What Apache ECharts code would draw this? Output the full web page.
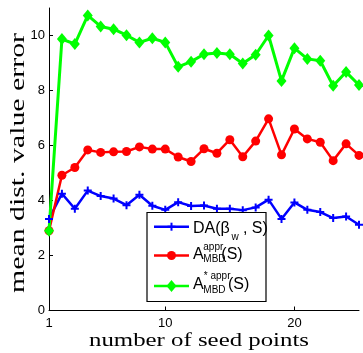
<!DOCTYPE html>
<html>
<head>
<meta charset="utf-8">
<script src="https://cdn.jsdelivr.net/npm/echarts@6/dist/echarts.min.js"></script>
<style>
  html, body { margin: 0; padding: 0; background: #fff; }
  #chart { width: 363px; height: 353px; }
</style>
</head>
<body>
<div id="chart"></div>
<script>
// Number of seed points on the x axis
const seedCounts = [1, 2, 3, 4, 5, 6, 7, 8, 9, 10, 11, 12, 13, 14, 15, 16, 17, 18, 19, 20, 21, 22, 23, 24, 25];

// Mean distance-value error per method
const daErrors = [3.33, 4.25, 3.7, 4.36, 4.16, 4.07, 3.83, 4.21, 3.81, 3.66, 3.94, 3.8, 3.82, 3.7, 3.7, 3.65, 3.75, 4.03, 3.33, 3.93, 3.66, 3.58, 3.36, 3.42, 3.12];
const mbdApprErrors = [2.9, 4.92, 5.2, 5.84, 5.75, 5.77, 5.78, 5.95, 5.87, 5.87, 5.58, 5.42, 5.88, 5.72, 6.21, 5.59, 6.16, 6.97, 5.66, 6.6, 6.24, 6.12, 5.45, 6.06, 5.64];
const mbdStarApprErrors = [2.9, 9.87, 9.69, 10.73, 10.33, 10.23, 10.01, 9.75, 9.9, 9.75, 8.86, 9.05, 9.32, 9.36, 9.32, 8.98, 9.3, 10.0, 8.35, 9.54, 9.15, 9.08, 8.17, 8.67, 8.2];

// Tick labels
const xTicks = [1, 10, 20];
const yTicks = [0, 2, 4, 6, 8, 10];

const xTitle = 'number of seed points';
const yTitle = 'mean dist. value error';

const BLUE = '#0000ff', RED = '#ff0000', GREEN = '#00ff00';
const PLUS = 'path://M3,0h2v3h3v2h-3v3h-2v-3h-3v-2h3z';

const chart = echarts.init(document.getElementById('chart'), null, { renderer: 'canvas' });

// Stretch a serif title horizontally to a target width
const measureCtx = document.createElement('canvas').getContext('2d');
function stretchFor(text, size, targetWidth) {
  measureCtx.font = size + 'px "Liberation Serif"';
  return targetWidth / measureCtx.measureText(text).width;
}

const SANS = '"Liberation Sans", Arial, sans-serif';

// Legend box drawn as graphics (the labels need stacked sub/superscripts)
function legendGraphics() {
  const g = [];
  g.push({ type: 'rect', shape: { x: 147, y: 212.5, width: 119, height: 89 },
    style: { fill: '#fff', stroke: '#000', lineWidth: 1.2 }, z: 100 });
  const rows = [
    { y: 226.7, color: BLUE, marker: 'plus' },
    { y: 255.5, color: RED, marker: 'circle' },
    { y: 286, color: GREEN, marker: 'diamond' }
  ];
  rows.forEach(r => {
    g.push({ type: 'line', shape: { x1: 154, y1: r.y, x2: 189, y2: r.y },
      style: { stroke: r.color, lineWidth: 2.5 }, z: 101 });
    if (r.marker === 'circle') {
      g.push({ type: 'circle', shape: { cx: 171.5, cy: r.y, r: 4.5 }, style: { fill: r.color }, z: 102 });
    } else if (r.marker === 'diamond') {
      g.push({ type: 'polygon', shape: { points: [[171.5, r.y - 6], [176.5, r.y], [171.5, r.y + 6], [166.5, r.y]] },
        style: { fill: r.color }, z: 102 });
    } else {
      g.push({ type: 'rect', shape: { x: 167.5, y: r.y - 1, width: 8, height: 2 }, style: { fill: r.color }, z: 102 });
      g.push({ type: 'rect', shape: { x: 170.5, y: r.y - 4, width: 2, height: 8 }, style: { fill: r.color }, z: 102 });
    }
  });
  const pieces = [
    { t: 'DA(\u03b2', x: 193, y: 228.3, s: 16 },
    { t: 'w', x: 231.5, y: 237.6, s: 10 },
    { t: ' , S)', x: 238.5, y: 228.3, s: 16 },
    { t: 'A', x: 193, y: 254.3, s: 16 },
    { t: 'appr', x: 203.3, y: 246.9, s: 10 },
    { t: 'MBD', x: 203.3, y: 259.6, s: 10 },
    { t: '(S)', x: 221.3, y: 254.3, s: 16 },
    { t: 'A', x: 193, y: 284.3, s: 16 },
    { t: '* appr', x: 203.8, y: 276.4, s: 10 },
    { t: 'MBD', x: 203.3, y: 289.9, s: 10 },
    { t: '(S)', x: 228, y: 284.3, s: 16 }
  ];
  pieces.forEach(p => {
    g.push({ type: 'text', x: p.x, y: p.y, z: 103,
      style: { text: p.t, fill: '#000', font: p.s + 'px ' + SANS, align: 'left', verticalAlign: 'middle' } });
  });
  return g;
}

const xTitleSize = 19, yTitleSize = 22;

const option = {
  animation: false,
  backgroundColor: '#fff',
  grid: { left: 49, right: 4, top: 8, bottom: 42.5, containLabel: false },
  xAxis: {
    type: 'value', min: 1, max: 25,
    axisLine: { lineStyle: { color: '#000', width: 1 } },
    axisTick: { inside: true, length: 4, customValues: xTicks, lineStyle: { color: '#000' } },
    axisLabel: { customValues: xTicks, color: '#000', fontSize: 13, fontFamily: SANS, margin: 6 },
    splitLine: { show: false }
  },
  yAxis: {
    type: 'value', min: 0, max: 11,
    axisLine: { show: true, lineStyle: { color: '#000', width: 1 } },
    axisTick: { show: true, inside: true, length: 4, customValues: yTicks, lineStyle: { color: '#000' } },
    axisLabel: { customValues: yTicks, color: '#000', fontSize: 13, fontFamily: SANS, margin: 4 },
    splitLine: { show: false }
  },
  series: [
    {
      name: 'DA', type: 'line', clip: false,
      data: seedCounts.map((s, i) => [s, daErrors[i]]),
      lineStyle: { color: BLUE, width: 2.5 },
      itemStyle: { color: BLUE },
      symbol: PLUS, symbolSize: 8, showAllSymbol: true
    },
    {
      name: 'MBD appr', type: 'line', clip: false,
      data: seedCounts.map((s, i) => [s, mbdApprErrors[i]]),
      lineStyle: { color: RED, width: 2.5 },
      itemStyle: { color: RED },
      symbol: 'circle', symbolSize: 9, showAllSymbol: true
    },
    {
      name: 'MBD* appr', type: 'line', clip: false,
      data: seedCounts.map((s, i) => [s, mbdStarApprErrors[i]]),
      lineStyle: { color: GREEN, width: 3 },
      itemStyle: { color: GREEN },
      symbol: 'diamond', symbolSize: [10, 12], showAllSymbol: true
    }
  ],
  graphic: [
    {
      type: 'text', x: 199, y: 341.5, z: 50,
      scaleX: stretchFor(xTitle, xTitleSize, 220),
      style: { text: xTitle, fill: '#000', font: xTitleSize + 'px "Liberation Serif"', align: 'center', verticalAlign: 'middle' }
    },
    {
      type: 'text', x: 18.5, y: 163, rotation: Math.PI / 2, z: 50,
      scaleX: stretchFor(yTitle, yTitleSize, 260),
      style: { text: yTitle, fill: '#000', font: yTitleSize + 'px "Liberation Serif"', align: 'center', verticalAlign: 'middle' }
    }
  ].concat(legendGraphics())
};

chart.setOption(option);
</script>
</body>
</html>
